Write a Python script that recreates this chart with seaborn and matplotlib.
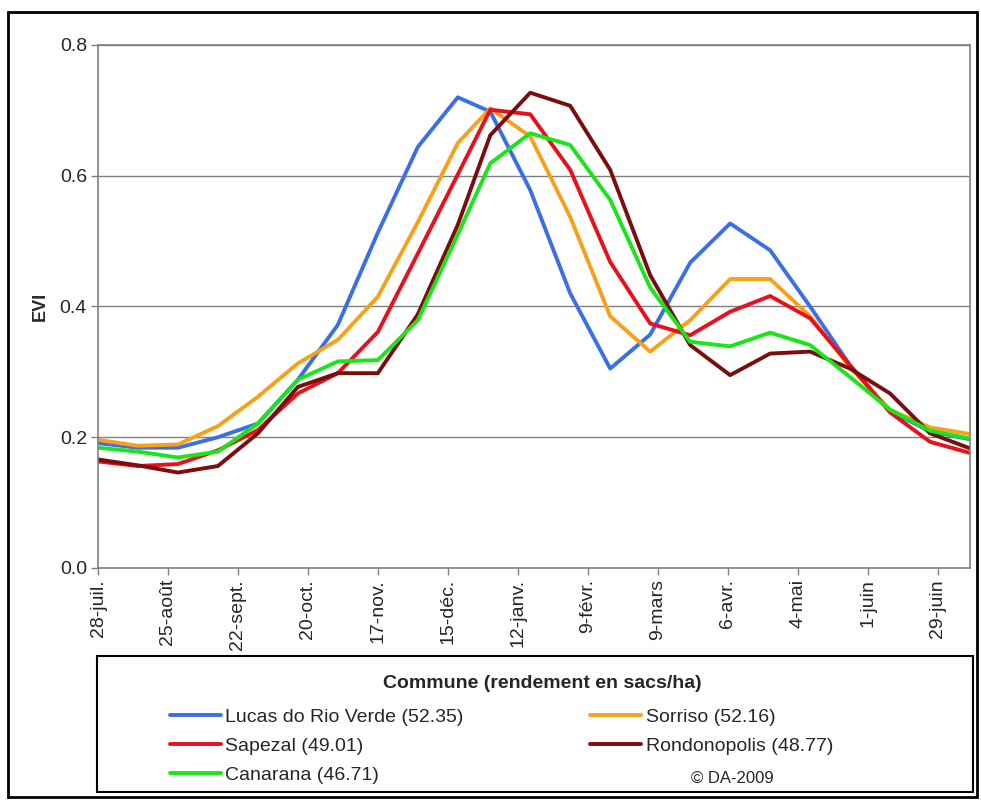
import matplotlib
matplotlib.use('Agg')
import matplotlib.pyplot as plt
from matplotlib.patches import Rectangle
import numpy as np
import pandas as pd
import seaborn as sns

# MODIS 16-day composite dates (day offsets from 28 July, reset on 1 January)
start = pd.Timestamp("2008-07-28")
day_offsets = [0, 16, 32, 48, 64, 80, 96, 112, 128, 144, 157, 173,
               189, 205, 221, 237, 253, 269, 285, 301, 317, 333, 349]
dates = [start + pd.Timedelta(days=d) for d in day_offsets]

lucas = [0.191, 0.184, 0.184, 0.200, 0.221, 0.288, 0.372, 0.513, 0.644, 0.720, 0.698, 0.578,
         0.420, 0.305, 0.357, 0.467, 0.527, 0.486, 0.400, 0.310, 0.240, 0.209, 0.197]
sorriso = [0.196, 0.187, 0.189, 0.217, 0.262, 0.313, 0.349, 0.415, 0.529, 0.650, 0.703, 0.660,
           0.537, 0.385, 0.331, 0.379, 0.442, 0.442, 0.385, 0.307, 0.242, 0.215, 0.205]
sapezal = [0.163, 0.156, 0.159, 0.180, 0.211, 0.267, 0.298, 0.361, 0.481, 0.602, 0.701, 0.694,
           0.609, 0.468, 0.374, 0.356, 0.392, 0.416, 0.382, 0.310, 0.238, 0.193, 0.176]
rondonopolis = [0.166, 0.157, 0.146, 0.156, 0.206, 0.277, 0.298, 0.298, 0.388, 0.525, 0.662, 0.727,
                0.707, 0.609, 0.448, 0.341, 0.295, 0.328, 0.331, 0.305, 0.267, 0.206, 0.183]
canarana = [0.184, 0.178, 0.169, 0.178, 0.221, 0.288, 0.316, 0.318, 0.379, 0.510, 0.619, 0.665,
            0.647, 0.563, 0.429, 0.346, 0.339, 0.360, 0.341, 0.292, 0.242, 0.210, 0.198]

series_names = ["Lucas do Rio Verde (52.35)", "Sorriso (52.16)", "Sapezal (49.01)",
                "Rondonopolis (48.77)", "Canarana (46.71)"]
series_values = [lucas, sorriso, sapezal, rondonopolis, canarana]
colors = ["#3A6FE8", "#F7A11A", "#E8101A", "#7B0D0D", "#19E619"]

tick_labels = ["28-juil.", "25-août", "22-sept.", "20-oct.", "17-nov.", "15-déc.", "12-janv.",
               "9-févr.", "9-mars", "6-avr.", "4-mai", "1-juin", "29-juin"]

df = pd.DataFrame({"date": dates * len(series_names),
                   "commune": np.repeat(series_names, len(dates)),
                   "evi": np.concatenate(series_values)})

sns.set_style("white")
plt.rcParams['font.family'] = ['Liberation Sans', 'DejaVu Sans']

fig = plt.figure(figsize=(9.81, 8.0), dpi=100)
ax = fig.add_axes([98 / 981, 232 / 800, 872 / 981, 523 / 800])

sns.lineplot(data=df, x="date", y="evi", hue="commune", hue_order=series_names,
             palette=colors, linewidth=2.8, legend=False, ax=ax)

ax.set_ylim(0, 0.8)
ax.set_yticks([0.0, 0.2, 0.4, 0.6, 0.8])
ax.set_yticklabels(["0.0", "0.2", "0.4", "0.6", "0.8"], fontsize=14)
ax.set_xlim(dates[0], dates[-1])
tick_dates = [start + pd.Timedelta(days=28 * i) for i in range(len(tick_labels))]
ax.set_xticks(tick_dates)
ax.set_xticklabels(tick_labels, rotation=90, fontsize=14)
ax.set_xlabel("")
ax.set_ylabel("EVI", fontsize=13, fontweight='bold', labelpad=8)

ax.grid(True, axis='y', color='#808080', linewidth=1)
ax.set_axisbelow(True)
for side in ax.spines.values():
    side.set_color('#808080')
    side.set_linewidth(1.2)
ax.tick_params(axis='both', direction='out', length=5, width=1, color='#808080',
               left=True, bottom=True, pad=3)

# legend box
fig.patches.append(Rectangle((97 / 981, 8 / 800), 876 / 981, 136 / 800, transform=fig.transFigure,
                             fill=False, edgecolor='black', linewidth=1.5))
fig.text(542 / 981, 1 - 684 / 800, "Commune (rendement en sacs/ha)", fontsize=14,
         fontweight='bold', ha='center', va='center')

lines = ax.get_lines()[:len(series_names)]
order = [0, 2, 4, 1, 3]
fig.legend([lines[i] for i in order], [series_names[i] for i in order],
           loc='upper left', bbox_to_anchor=(170 / 981, 1 - 708 / 800), ncol=2,
           frameon=False, fontsize=14, handlelength=2.6, handletextpad=0.25,
           columnspacing=6.5, labelspacing=0.6, borderpad=0, borderaxespad=0)
fig.text(732 / 981, 1 - 778 / 800, "© DA-2009", fontsize=12, ha='center', va='center')

# outer frame
fig.patches.append(Rectangle((8 / 981, 3 / 800), 969 / 981, 785 / 800, transform=fig.transFigure,
                             fill=False, edgecolor='black', linewidth=2))

fig.savefig("out.png", dpi=100)
